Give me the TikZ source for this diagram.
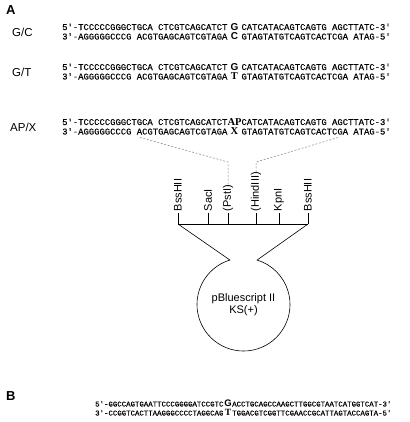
\documentclass[tikz,border=0pt]{standalone}
\usepackage{fontspec}
\setmainfont{Liberation Sans}
\setmonofont{Liberation Mono}[FakeBold=0.25]
\newfontfamily\serfont{Liberation Serif}
\begin{document}
\begin{tikzpicture}[x=1bp,y=-1bp,
  seqA/.style={font=\ttfamily\fontsize{8.88bp}{10bp}\selectfont, inner sep=0pt, anchor=base west},
  seqB/.style={font=\ttfamily\fontsize{7.37bp}{9bp}\selectfont, inner sep=0pt, anchor=base west},
  midsans/.style={font=\bfseries\fontsize{10bp}{10bp}\selectfont, inner sep=0pt, anchor=base},
  midser/.style={font=\serfont\bfseries\fontsize{10.5bp}{10bp}\selectfont, inner sep=0pt, anchor=base},
  site/.style={rotate=90, anchor=west, inner sep=1bp, font=\fontsize{11bp}{11bp}\selectfont},
  lbl/.style={anchor=west, inner sep=0pt, font=\fontsize{11.5bp}{12bp}\selectfont},
  panel/.style={anchor=west, inner sep=0pt, font=\bfseries\fontsize{13bp}{13bp}\selectfont},
  thin/.style={line width=0.6bp},
  guide/.style={line width=0.5bp, gray, dash pattern=on 2bp off 1.6bp}
]
\useasboundingbox (0,0) rectangle (410,422);

% panel labels
\node[panel] (pA) at (6,10) {A};
\node[panel] (pB) at (6,396) {B};

% G/C
\node[lbl] (lgc) at (12,32) {G/C};
\node[seqA] (gc1l) at (62,30) {5'-TCCCCCGGGCTGCA CTCGTCAGCATCT};
\node[midsans] (gc1m) at (234.5,30) {G};
\node[seqA] (gc1r) at (241.3,30) {CATCATACAGTCAGTG AGCTTATC-3'};
\node[seqA] (gc2l) at (62,39.5) {3'-AGGGGGCCCG ACGTGAGCAGTCGTAGA};
\node[midsans] (gc2m) at (234.5,39.5) {C};
\node[seqA] (gc2r) at (241.3,39.5) {GTAGTATGTCAGTCACTCGA ATAG-5'};

% G/T
\node[lbl] (lgt) at (12,72) {G/T};
\node[seqA] (gt1l) at (62,70) {5'-TCCCCCGGGCTGCA CTCGTCAGCATCT};
\node[midsans] (gt1m) at (234.5,70) {G};
\node[seqA] (gt1r) at (241.3,70) {CATCATACAGTCAGTG AGCTTATC-3'};
\node[seqA] (gt2l) at (62,79.5) {3'-AGGGGGCCCG ACGTGAGCAGTCGTAGA};
\node[midser] (gt2m) at (234.5,79.5) {T};
\node[seqA] (gt2r) at (241.3,79.5) {GTAGTATGTCAGTCACTCGA ATAG-5'};

% AP/X
\node[lbl] (lap) at (10,127) {AP/X};
\node[seqA] (ap1l) at (62,125) {5'-TCCCCCGGGCTGCA CTCGTCAGCATCT};
\node[midser, font=\serfont\bfseries\fontsize{10.5bp}{10bp}\selectfont] (ap1m) at (234.5,125) {AP};
\node[seqA] (ap1r) at (241.3,125) {CATCATACAGTCAGTG AGCTTATC-3'};
\node[seqA] (ap2l) at (62,134.5) {3'-AGGGGGCCCG ACGTGAGCAGTCGTAGA};
\node[midser] (ap2m) at (234.5,134.5) {X};
\node[seqA] (ap2r) at (241.3,134.5) {GTAGTATGTCAGTCACTCGA ATAG-5'};

% B
\node[seqB] (b1l) at (95,406.5) {5'-GGCCAGTGAATTCCCGGGGATCCGTC};
\node[midsans, font=\bfseries\fontsize{9.5bp}{9bp}\selectfont] (b1m) at (228,406.5) {G};
\node[seqB] (b1r) at (232,406.5) {ACCTGCAGCCAAGCTTGGCGTAATCATGGTCAT-3'};
\node[seqB] (b2l) at (95,415.5) {3'-CCGGTCACTTAAGGGCCCCTAGGCAG};
\node[midser, font=\serfont\bfseries\fontsize{9.5bp}{9bp}\selectfont] (b2m) at (228,415.5) {T};
\node[seqB] (b2r) at (232,415.5) {TGGACGTCGGTTCGAACCGCATTAGTACCAGTA-5'};

% restriction sites
\node[site] (s1) at (178,212.5) {BssHII};
\node[site] (s2) at (208,212.5) {SacI};
\node[site] (s3) at (228,212.5) {(PstI)};
\node[site] (s4) at (256,212.5) {(HindIII)};
\node[site] (s5) at (279,212.5) {KpnI};
\node[site] (s6) at (308,212.5) {BssHII};

\coordinate (t1) at (178,224);
\coordinate (t2) at (208,224);
\coordinate (t3) at (228,224);
\coordinate (t4) at (256,224);
\coordinate (t5) at (279,224);
\coordinate (t6) at (308,224);
\draw[thin] (t1) -- (t6);
\foreach \i in {1,...,6} \draw[thin] (t\i) -- (s\i.west);

% dashed guides
\coordinate (dl1) at (140,137.5);
\coordinate (dl2) at (228,162);
\coordinate (dr1) at (338,137.5);
\coordinate (dr2) at (256,162);
\draw[guide] (dl1) -- (dl2) -- ([yshift=-3bp]s3.east);
\draw[guide] (dr1) -- (dr2) -- ([yshift=-3bp]s4.east);

% plasmid
\node[circle, inner sep=0pt, outer sep=0pt, minimum size=93bp, align=center,
      font=\fontsize{11bp}{12.5bp}\selectfont] (pl) at (243.5,304.5) {pBluescript II\\KS(+)};
\draw[thin] (t1) -- (pl.107) arc[start angle=107, end angle=433, radius=46.5bp] -- (t6);
\end{tikzpicture}
\end{document}
